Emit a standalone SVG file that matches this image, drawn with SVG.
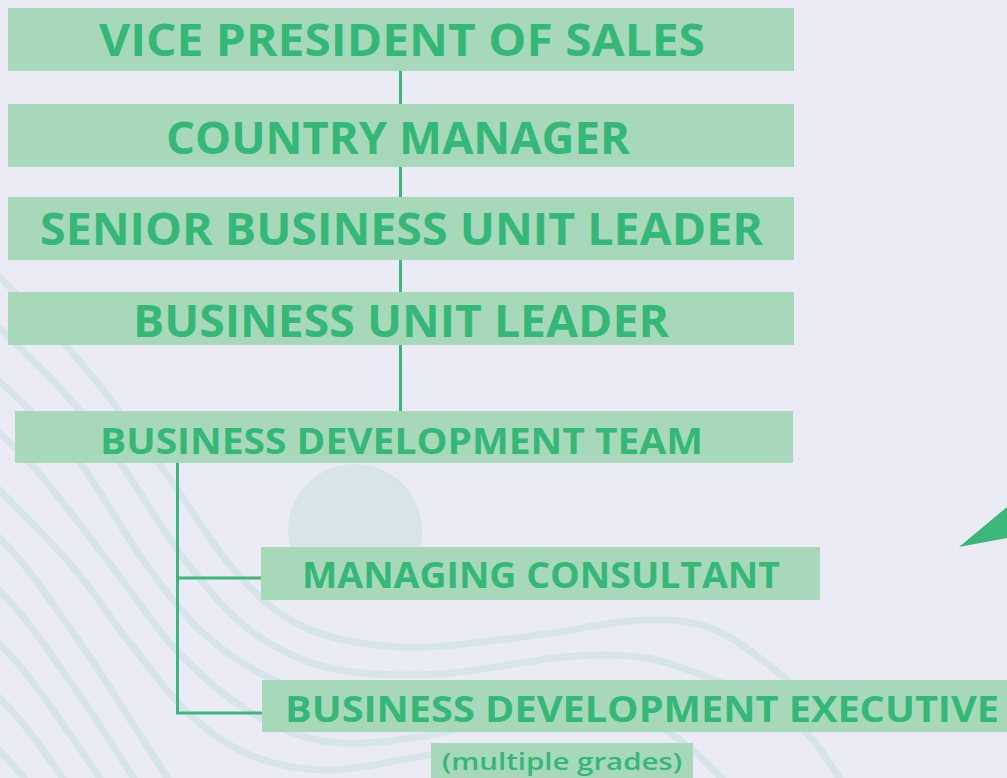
<svg xmlns="http://www.w3.org/2000/svg" width="1007" height="778" viewBox="0 0 1007 778">
<defs>
<style>
.bg{fill:#ebebf5}
.wave{fill:none;stroke:#d7e5ea;stroke-width:7;stroke-linecap:round}
.box{fill:#a7d8b9}
.t1{font-family:"Open Sans","Liberation Sans",sans-serif;font-weight:700;font-size:44px;fill:#33b877;text-anchor:middle}
.t2{font-family:"Open Sans","Liberation Sans",sans-serif;font-weight:700;font-size:36px;fill:#33b877;text-anchor:middle}
.t3{font-family:"Open Sans","Liberation Sans",sans-serif;font-weight:600;font-size:24px;fill:#33b877;text-anchor:middle}
.conn{fill:none;stroke:#3ab87a;stroke-width:3}
</style>
<path id="lineF" d="M-30,510 C-22,518 1,537 20,560 C39,583 65,621 85,650 C105,679 125,712 140,735 C155,758 169,781 175,790"/>
</defs>
<rect class="bg" x="0" y="0" width="1007" height="778"/>
<g id="background">
<path class="wave" d="M-30,248 C-13,265 38,314 70,350 C102,386 133,429 160,465 C187,501 207,538 230,565 C253,592 272,611 300,625 C328,639 362,645 400,647 C438,649 490,641 530,636 C570,632 610,621 640,620 C670,619 688,620 710,628 C733,636 753,653 775,670 C797,687 829,720 840,730"/>
<path class="wave" d="M-30,300 C-15,315 35,361 60,388 C85,415 99,434 120,463 C141,492 163,532 185,560 C207,588 226,612 250,630 C274,648 298,661 330,668 C362,675 401,676 440,674 C479,672 530,660 563,657 C596,654 616,654 640,657 C664,660 685,669 707,677 C729,685 752,695 770,705 C788,716 800,725 813,740 C826,755 844,786 850,795"/>
<path class="wave" d="M-30,355 C-20,364 12,392 30,410 C48,428 61,438 80,463 C99,488 123,532 143,560 C163,588 179,610 200,630 C221,650 245,666 270,678 C295,690 317,698 350,703 C383,708 430,707 470,708 C510,710 559,709 590,712 C621,715 638,720 655,726 C672,732 678,739 690,748 C702,757 719,776 725,782"/>
<path class="wave" d="M-30,408 C-20,417 7,438 30,463 C53,488 83,529 107,560 C132,591 153,626 177,651 C201,676 225,697 250,712 C276,727 300,738 330,742 C360,746 402,740 430,735 C458,731 488,718 500,715"/>
<path class="wave" d="M-30,460 C-14,477 40,530 67,560 C94,591 110,618 130,643 C150,668 167,693 187,712 C207,731 226,745 250,755 C274,765 300,770 330,770 C360,770 403,758 430,755 C457,752 480,751 490,750"/>
<use href="#lineF" class="wave"/>
<use href="#lineF" class="wave" transform="translate(0,53)"/>
<use href="#lineF" class="wave" transform="translate(0,106)"/>
<use href="#lineF" class="wave" transform="translate(0,160)"/>
<use href="#lineF" class="wave" transform="translate(0,213)"/>
<circle cx="355" cy="531" r="67" fill="#d7e4ea"/>
<polygon points="959,547 1007,507 1007,538" fill="#3ab87a"/>
</g>
<g id="connectors">
<path class="conn" d="M400.5,71 V411"/>
<path class="conn" d="M177.5,463 V713 H262 M177.5,578 H261"/>
</g>
<g id="vp">
<rect class="box" x="8" y="8" width="786" height="63"/>
<text class="t1" x="402" y="56" textLength="606" lengthAdjust="spacingAndGlyphs">VICE PRESIDENT OF SALES</text>
</g>
<g id="country-manager">
<rect class="box" x="8" y="104" width="786" height="63"/>
<text class="t1" x="398" y="154" textLength="464" lengthAdjust="spacingAndGlyphs">COUNTRY MANAGER</text>
</g>
<g id="senior-bul">
<rect class="box" x="8" y="197" width="786" height="63"/>
<text class="t1" x="401.5" y="245" textLength="723" lengthAdjust="spacingAndGlyphs">SENIOR BUSINESS UNIT LEADER</text>
</g>
<g id="bul">
<rect class="box" x="8" y="292" width="786" height="53"/>
<text class="t1" x="401" y="337" textLength="536" lengthAdjust="spacingAndGlyphs">BUSINESS UNIT LEADER</text>
</g>
<g id="bdt">
<rect class="box" x="15" y="411" width="778" height="52"/>
<text class="t2" x="401.5" y="454" textLength="603" lengthAdjust="spacingAndGlyphs">BUSINESS DEVELOPMENT TEAM</text>
</g>
<g id="mc">
<rect class="box" x="261" y="547" width="559" height="53"/>
<text class="t2" x="541" y="588" textLength="478" lengthAdjust="spacingAndGlyphs">MANAGING CONSULTANT</text>
</g>
<g id="bde">
<rect class="box" x="262" y="680" width="750" height="52"/>
<text class="t2" x="642" y="722" textLength="714" lengthAdjust="spacingAndGlyphs">BUSINESS DEVELOPMENT EXECUTIVE</text>
</g>
<g id="grades">
<rect class="box" x="431" y="743" width="262" height="40"/>
<text class="t3" x="562" y="770" textLength="240" lengthAdjust="spacingAndGlyphs">(multiple grades)</text>
</g>
</svg>
